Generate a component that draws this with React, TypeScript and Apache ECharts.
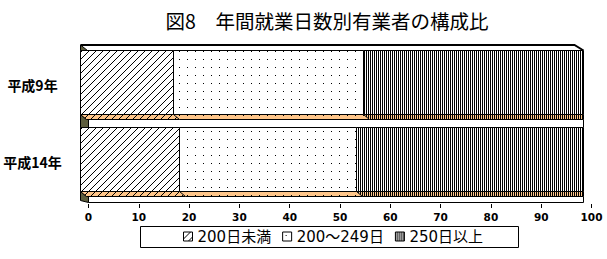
import React, { useEffect, useRef } from 'react';
import * as echarts from 'echarts';

// ---- data ----
const categories = ['平成9年', '平成14年'];
const seriesNames = ['200日未満', '200～249日', '250日以上'];
const under200 = [18.4, 19.7];
const from200to249 = [37.9, 35.2];
const over250 = [43.7, 45.1];
const axisMin = 0;
const axisMax = 100;
const axisInterval = 10;
const titleText = '図8　年間就業日数別有業者の構成比';

const ORANGE = '#FFC68A';
const OLIVE = '#5E5E3E';
const SHIFT = 8; // 3D front-face offset from the floor axis
const D = 6; // depth slant of the bottom face

type Kind = 'hatch' | 'dots' | 'vert';
const kinds: Kind[] = ['hatch', 'dots', 'vert'];

function makePattern(kind: Kind, bg: string | null) {
  const c = document.createElement('canvas');
  let w = 7, h = 7;
  if (kind === 'dots') { w = 8; h = 8; }
  if (kind === 'vert') { w = 2; h = 2; }
  c.width = w; c.height = h;
  const ctx = c.getContext('2d')!;
  if (bg) { ctx.fillStyle = bg; ctx.fillRect(0, 0, w, h); }
  ctx.fillStyle = '#000';
  if (kind === 'hatch') {
    for (let k = 0; k < 7; k++) ctx.fillRect(k, 6 - k, 1, 1);
  } else if (kind === 'dots') {
    ctx.fillRect(3, 3, 1, 1);
  } else {
    ctx.fillRect(0, 0, 1, 2);
  }
  return { image: c.toDataURL(), repeat: 'repeat', imageWidth: w, imageHeight: h } as any;
}

const px = (v: number) => Math.floor(v) + 0.5;

export default function App() {
  const ref = useRef<HTMLDivElement>(null);
  useEffect(() => {
    const chart = echarts.init(ref.current!, null, { renderer: 'svg' });
    const patT = kinds.map((k) => makePattern(k, null));
    const patW = kinds.map((k) => makePattern(k, '#fff'));

    const values = [under200, from200to249, over250];
    const starts = categories.map(() => 0);
    const segData = values.map((arr) =>
      arr.map((v, ci) => {
        const s = starts[ci];
        starts[ci] += v;
        return [s, s + v, ci];
      })
    );
    const lastCat = categories.length - 1;

    const geom = (api: any, s: number, e: number, ci: number) => {
      const pS = api.coord([s, ci]);
      const pE = api.coord([e, ci]);
      const bandH = api.size([0, 1])[1];
      const top = pS[1] - bandH / 2;
      return {
        top,
        x0: px(pS[0] - SHIFT),
        x1: px(pE[0] - SHIFT),
        ft: px(top + 4),
        fb: px(top + 68),
        sb: px(top + 73),
        gbNext: px(top + 81),
        gbLast: px(top + 79),
      };
    };

    const frameRender = (params: any, api: any) => {
      const ci = api.value(2);
      const g = geom(api, api.value(0), api.value(1), ci);
      const isLast = ci === lastCat;
      const gb = isLast ? g.gbLast : g.gbNext;
      const children: any[] = [];
      children.push({
        type: 'rect',
        shape: { x: g.x0 + 8, y: g.sb, width: g.x1 - g.x0 - 8, height: gb - g.sb },
        style: { fill: '#fff', stroke: null },
      });
      children.push({
        type: 'polyline',
        shape: { points: [[g.x1, g.sb], [g.x1, gb]].concat(isLast ? [[g.x0 + 8, gb]] : []) },
        style: { stroke: '#000', lineWidth: 1, fill: null },
      });
      children.push({
        type: 'polygon',
        shape: {
          points: [[g.x0, g.fb], [g.x0 + D, g.sb], [g.x0 + 8, g.sb], [g.x0 + 8, gb], [g.x0, isLast ? gb - 2 : gb]],
        },
        style: { fill: OLIVE, stroke: '#000', lineWidth: 1 },
      });
      if (ci === 0) {
        const ty = Math.round(g.top) - 1;
        children.push({
          type: 'polygon',
          shape: { points: [[g.x0, ty], [g.x0 + 7, g.ft], [g.x0, g.ft]] },
          style: { fill: OLIVE, stroke: '#000', lineWidth: 1 },
        });
        children.push({
          type: 'polyline',
          shape: { points: [[g.x0, ty], [g.x1 - 9, ty], [g.x1, g.ft]] },
          style: { stroke: '#000', lineWidth: 2, fill: null },
        });
      }
      return { type: 'group', children };
    };

    const barRender = (si: number) => (params: any, api: any) => {
      const ci = api.value(2);
      const g = geom(api, api.value(0), api.value(1), ci);
      const isLastSeg = si === values.length - 1;
      const rx = isLastSeg ? g.x1 : g.x1 + D;
      const front = { x: g.x0, y: g.ft, width: g.x1 - g.x0, height: g.fb - g.ft };
      const stripPts = [[g.x0, g.fb], [g.x1, g.fb], [rx, g.sb], [g.x0 + D, g.sb]];
      return {
        type: 'group',
        children: [
          { type: 'rect', shape: front, style: { fill: '#fff' } },
          { type: 'rect', shape: front, style: { fill: patT[si] } },
          { type: 'polygon', shape: { points: stripPts }, style: { fill: ORANGE } },
          { type: 'polygon', shape: { points: stripPts }, style: { fill: patT[si] } },
          { type: 'rect', shape: front, style: { fill: null, stroke: '#000', lineWidth: 1 } },
          {
            type: 'polyline',
            shape: { points: [[g.x0, g.fb], [g.x0 + D, g.sb], [rx, g.sb]].concat(isLastSeg ? [[g.x1, g.fb]] : []) },
            style: { fill: null, stroke: '#000', lineWidth: 1 },
          },
        ],
      };
    };

    const option: any = {
      animation: false,
      backgroundColor: '#fff',
      grid: { left: 88.5, top: 46, width: 503, height: 154, containLabel: false, outerBoundsMode: 'none' },
      xAxis: {
        type: 'value',
        min: axisMin,
        max: axisMax,
        interval: axisInterval,
        offset: 4,
        axisLine: { show: false },
        axisTick: { show: true, length: 4, lineStyle: { color: '#000', width: 1 } },
        splitLine: { show: false },
        axisLabel: { fontSize: 10.5, fontWeight: 'bold', fontFamily: 'DejaVu Sans', color: '#000', margin: 7 },
      },
      yAxis: {
        type: 'category',
        data: categories,
        inverse: true,
        axisLine: { show: false },
        axisTick: { show: false },
        splitLine: { show: false },
        axisLabel: {
          fontSize: 14,
          fontWeight: 'bold',
          fontFamily: 'Noto Sans CJK JP',
          color: '#000',
          align: 'center',
          margin: 56,
        },
      },
      legend: {
        left: 183,
        top: 229,
        padding: 0,
        itemWidth: 9,
        itemHeight: 9,
        itemGap: 11,
        textStyle: { fontSize: 15, fontFamily: 'DejaVu Sans, Noto Sans CJK JP', color: '#000' },
        data: seriesNames.map((n, i) => ({
          name: n,
          icon: 'rect',
          itemStyle: { color: patW[i], borderColor: '#000', borderWidth: 1 },
        })),
      },
      graphic: [
        {
          type: 'text',
          x: 327,
          y: 20,
          style: {
            text: titleText,
            fontSize: 19.5,
            fontFamily: 'Noto Sans CJK JP',
            fill: '#000',
            textAlign: 'center',
            textVerticalAlign: 'middle',
          },
        },
        {
          type: 'rect',
          shape: { x: 140.5, y: 226.5, width: 378, height: 21 },
          style: { fill: null, stroke: '#000', lineWidth: 1 },
          z: 100,
        },
      ],
      series: [
        {
          type: 'custom',
          name: 'frame',
          z: 1,
          clip: false,
          silent: true,
          encode: { x: [0, 1], y: 2 },
          data: categories.map((_, ci) => [axisMin, axisMax, ci]),
          renderItem: frameRender,
        },
        ...seriesNames.map((n, si) => ({
          type: 'custom',
          name: n,
          z: 2 + si,
          clip: false,
          encode: { x: [0, 1], y: 2 },
          itemStyle: { color: patW[si], borderColor: '#000', borderWidth: 1 },
          data: segData[si],
          renderItem: barRender(si),
        })),
      ],
    };
    chart.setOption(option);
    return () => chart.dispose();
  }, []);
  return (
    <div
      ref={ref}
      style={{ position: 'fixed', left: 0, top: 0, width: 607, height: 259, background: '#fff' }}
    />
  );
}
